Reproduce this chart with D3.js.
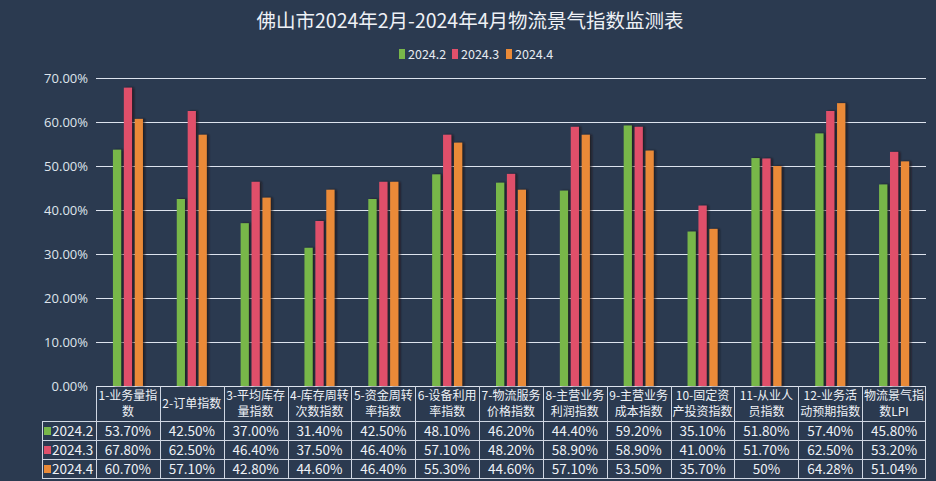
<!DOCTYPE html>
<html>
<head>
<meta charset="utf-8">
<script src="https://cdn.jsdelivr.net/npm/d3@7"></script>
<style>
  html, body { margin: 0; padding: 0; background: #2b3a50; }
  svg { display: block; font-family: "Noto Sans CJK SC", "Noto Sans", sans-serif; }
</style>
</head>
<body>
<svg></svg>
<script>
// categories (line breaks as they wrap in the table header)
var categories = ["1-业务量指\n数", "2-订单指数", "3-平均库存\n量指数", "4-库存周转\n次数指数", "5-资金周转\n率指数",
    "6-设备利用\n率指数", "7-物流服务\n价格指数", "8-主营业务\n利润指数", "9-主营业务\n成本指数", "10-固定资\n产投资指数",
    "11-从业人\n员指数", "12-业务活\n动预期指数", "物流景气指\n数LPI"];

var seriesNames = ["2024.2", "2024.3", "2024.4"];

var s2024_2 = ["53.70%", "42.50%", "37.00%", "31.40%", "42.50%", "48.10%", "46.20%", "44.40%", "59.20%", "35.10%", "51.80%", "57.40%", "45.80%"];
var s2024_3 = ["67.80%", "62.50%", "46.40%", "37.50%", "46.40%", "57.10%", "48.20%", "58.90%", "58.90%", "41.00%", "51.70%", "62.50%", "53.20%"];
var s2024_4 = ["60.70%", "57.10%", "42.80%", "44.60%", "46.40%", "55.30%", "44.60%", "57.10%", "53.50%", "35.70%", "50%", "64.28%", "51.04%"];

var yTicks = [0, 0.1, 0.2, 0.3, 0.4, 0.5, 0.6, 0.7];

var title = "佛山市2024年2月-2024年4月物流景气指数监测表";

var seriesLabels = [s2024_2, s2024_3, s2024_4];
var colors = ["#78b74a", "#e0506b", "#ea8a38"];

const svgWidth = 936, svgHeight = 481;
var margin = { top: 78, right: 10, bottom: 95, left: 96 };
var tableLeft = 42;
var headerH = 35, rowH = 19;

var svg = d3.select("svg")
    .attr("width", svgWidth)
    .attr("height", svgHeight);

svg.append("rect").attr("width", svgWidth).attr("height", svgHeight).attr("fill", "#2b3a50");

var defs = svg.append("defs");
var shadow = defs.append("filter").attr("id", "shadow")
    .attr("x", "-50%").attr("y", "-10%").attr("width", "200%").attr("height", "120%");
shadow.append("feDropShadow")
    .attr("dx", 2).attr("dy", 0).attr("stdDeviation", 1)
    .attr("flood-color", "#1a0c08").attr("flood-opacity", 0.7);

var x0 = d3.scaleBand()
    .domain(categories)
    .range([margin.left, svgWidth - margin.right]);

var groupW = 30;
var x1 = d3.scaleBand()
    .domain(seriesNames)
    .range([x0.bandwidth() / 2 - groupW / 2, x0.bandwidth() / 2 + groupW / 2])
    .paddingInner(0.25);

var y = d3.scaleLinear()
    .domain([0, 0.7])
    .range([svgHeight - margin.bottom, margin.top]);

var fmt = d3.format(".2%");

// title
svg.append("text")
    .attr("x", svgWidth / 2 + 2).attr("y", 28)
    .attr("text-anchor", "middle")
    .attr("font-size", 19.5)
    .attr("fill", "#eef1f6")
    .text(title);

// legend
var legendX = [399, 452, 506];
var legend = svg.append("g");
seriesNames.forEach(function(s, i) {
    legend.append("rect").attr("x", legendX[i]).attr("y", 49).attr("width", 6).attr("height", 10)
        .attr("fill", colors[i]);
    legend.append("text").attr("x", legendX[i] + 9).attr("y", 58.5)
        .attr("font-size", 12.5).attr("fill", "#e6eaf0").text(s);
});

// gridlines + y labels
var grid = svg.append("g");
yTicks.forEach(function(t) {
    grid.append("line")
        .attr("x1", margin.left).attr("x2", svgWidth - margin.right)
        .attr("y1", Math.round(y(t)) + 0.5).attr("y2", Math.round(y(t)) + 0.5)
        .attr("stroke", "#dde3ee").attr("stroke-width", 1);
    grid.append("text")
        .attr("x", 88).attr("y", y(t) + 4.5)
        .attr("text-anchor", "end")
        .attr("font-size", 13)
        .attr("font-family", "'Open Sans', 'Noto Sans', sans-serif")
        .attr("fill", "#dfe4ec")
        .text(fmt(t));
});

// bars
var barData = [];
categories.forEach(function(c, ci) {
    seriesNames.forEach(function(s, si) {
        barData.push({ cat: c, series: s, si: si, value: parseFloat(seriesLabels[si][ci]) / 100 });
    });
});

svg.append("g").selectAll("rect")
    .data(barData)
    .enter()
    .append("rect")
    .attr("x", d => x0(d.cat) + x1(d.series))
    .attr("y", d => y(d.value))
    .attr("width", x1.bandwidth())
    .attr("height", d => y(0) - y(d.value))
    .attr("fill", d => colors[d.si])
    .attr("filter", "url(#shadow)");

// data table
var tableTop = y(0);
var table = svg.append("g").attr("font-family", "'Noto Sans CJK SC', sans-serif");
var lineColor = "#cfd6e2";
var right = svgWidth - margin.right;
var bottom = tableTop + headerH + rowH * 3;

// horizontal lines
[tableTop + headerH, tableTop + headerH + rowH, tableTop + headerH + rowH * 2, bottom].forEach(function(yy) {
    table.append("line").attr("x1", tableLeft).attr("x2", right)
        .attr("y1", Math.round(yy) + 0.5).attr("y2", Math.round(yy) + 0.5)
        .attr("stroke", lineColor);
});
// vertical lines
table.append("line").attr("x1", tableLeft + 0.5).attr("x2", tableLeft + 0.5)
    .attr("y1", tableTop + headerH).attr("y2", bottom).attr("stroke", lineColor);
categories.forEach(function(c) {
    var xx = Math.round(x0(c)) + 0.5;
    table.append("line").attr("x1", xx).attr("x2", xx)
        .attr("y1", tableTop).attr("y2", bottom).attr("stroke", lineColor);
});
table.append("line").attr("x1", right - 0.5).attr("x2", right - 0.5)
    .attr("y1", tableTop).attr("y2", bottom).attr("stroke", lineColor);

// header text (one text element per cell, lines as tspans)
categories.forEach(function(c) {
    var lines = c.split("\n");
    var cx = x0(c) + x0.bandwidth() / 2;
    var cy = tableTop + headerH / 2;
    var t = table.append("text")
        .attr("text-anchor", "middle")
        .attr("font-size", 12)
        .attr("fill", "#eef1f6");
    lines.forEach(function(l, i) {
        t.append("tspan")
            .attr("x", cx)
            .attr("y", cy + 4.5 + (i - (lines.length - 1) / 2) * 15.5)
            .text(l);
    });
});

// rows
seriesNames.forEach(function(s, si) {
    var ry = tableTop + headerH + rowH * si;
    table.append("rect").attr("x", 44).attr("y", ry + 6).attr("width", 7).attr("height", 8)
        .attr("fill", colors[si]);
    table.append("text").attr("x", 52).attr("y", ry + 15)
        .attr("font-size", 13.5).attr("fill", "#eef1f6").text(s);
    categories.forEach(function(c, ci) {
        table.append("text")
            .attr("x", x0(c) + x0.bandwidth() / 2)
            .attr("y", ry + 15)
            .attr("text-anchor", "middle")
            .attr("font-size", 13.5)
            .attr("fill", "#eef1f6")
            .text(seriesLabels[si][ci]);
    });
});
</script>
</body>
</html>
